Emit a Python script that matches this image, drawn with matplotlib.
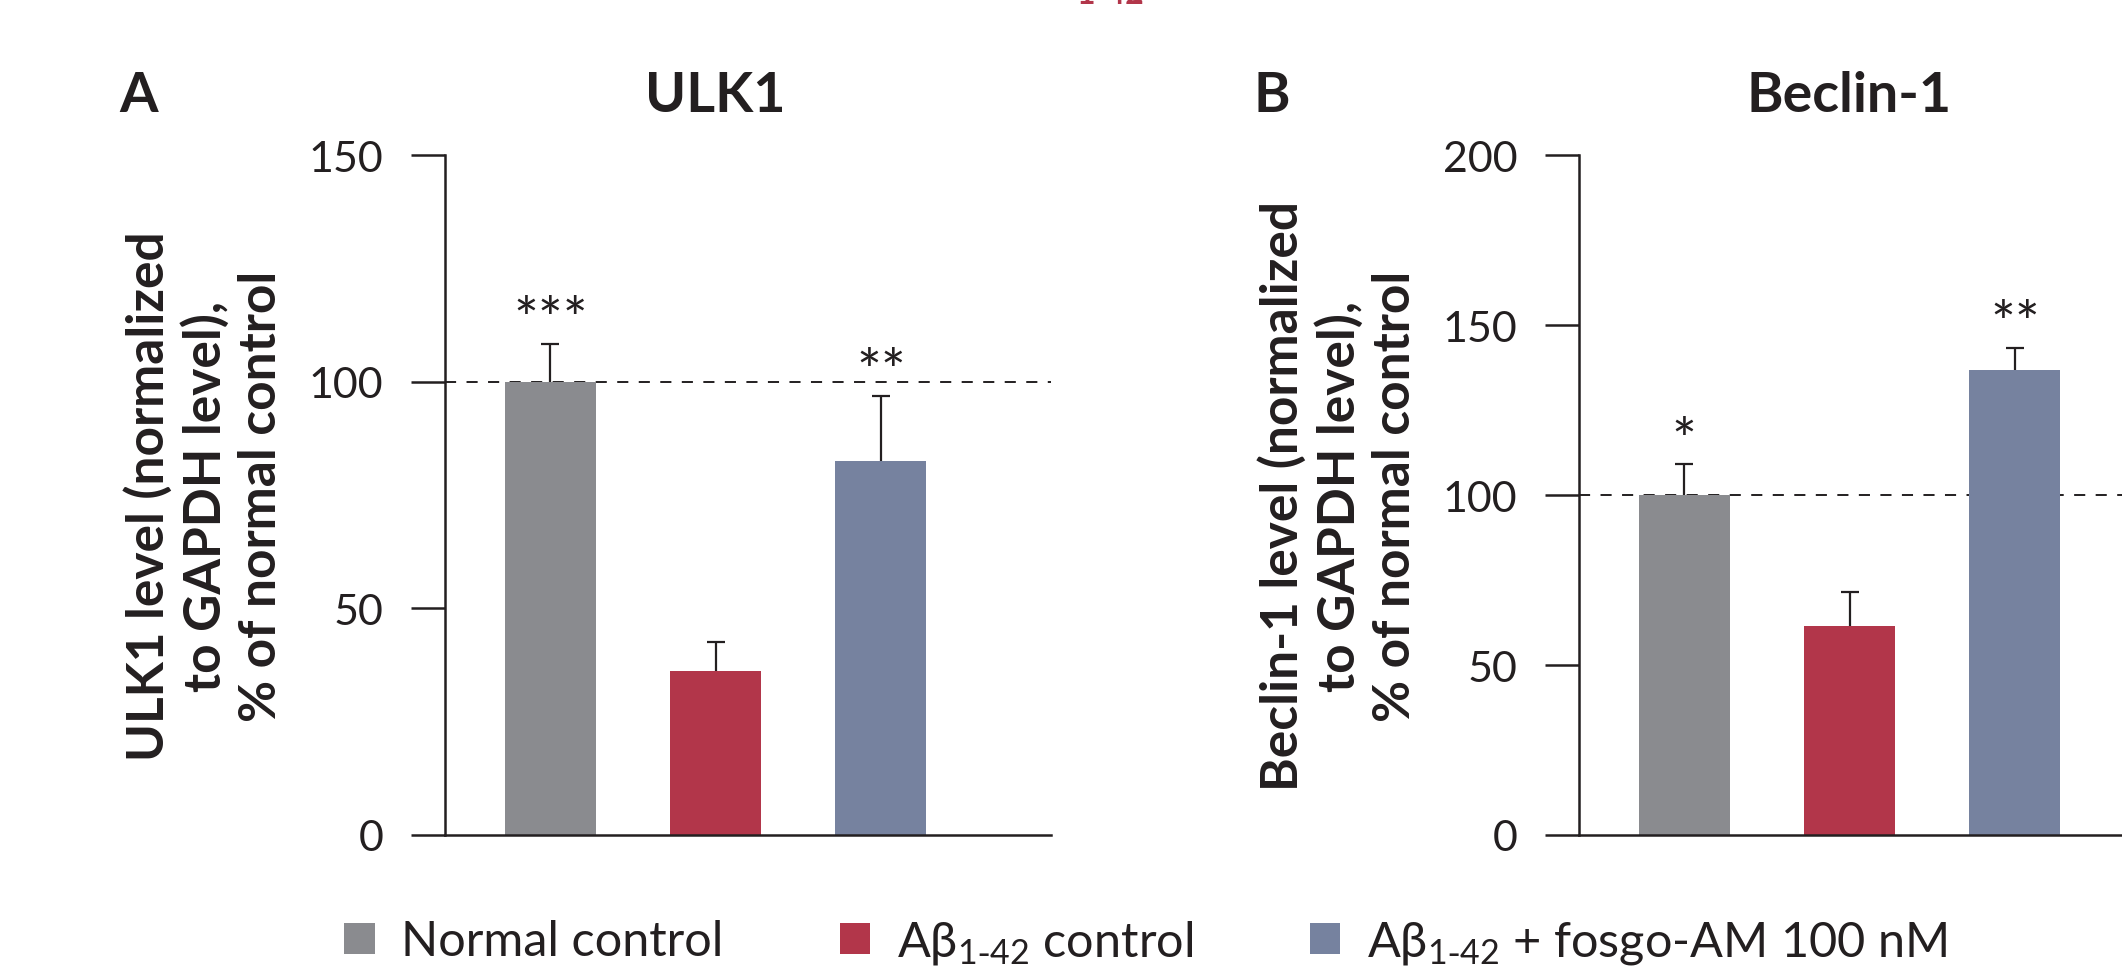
import numpy as np
import matplotlib
matplotlib.use('Agg')
import matplotlib.pyplot as plt

plt.rcParams['font.family'] = ['Lato', 'DejaVu Sans']
plt.rcParams['lines.scale_dashes'] = False
plt.rcParams['mathtext.default'] = 'regular'

INK = '#231f20'

groups = ['Normal control', r'A$\beta_{1\text{-}42}$ control',
          r'A$\beta_{1\text{-}42}$ + fosgo-AM 100 nM']
colors = ['#8a8b8f', '#b2364a', '#76829f']

ulk1_mean = [100, 36.1, 82.4]
ulk1_err = [8.4, 6.5, 14.5]
ulk1_stars = ['***', '', '**']

beclin_mean = [100, 61.5, 136.8]
beclin_err = [9.0, 10.0, 6.5]
beclin_stars = ['*', '', '**']

panels = [
    dict(letter='A', title='ULK1', mean=ulk1_mean, err=ulk1_err, stars=ulk1_stars,
         ylim=150, ticks=[0, 50, 100, 150],
         ylabel='ULK1 level (normalized\nto GAPDH level),\n% of normal control',
         left=445),
    dict(letter='B', title='Beclin-1', mean=beclin_mean, err=beclin_err, stars=beclin_stars,
         ylim=200, ticks=[0, 50, 100, 150, 200],
         ylabel='Beclin-1 level (normalized\nto GAPDH level),\n% of normal control',
         left=1579),
]

W, H = 2122, 970
fig = plt.figure(figsize=(W / 100, H / 100), dpi=100)

x = np.arange(3)
handles = []
for p in panels:
    ax = fig.add_axes([p['left'] / W, (H - 836) / H, 606 / W, 680 / H])
    ax.axhline(100, color=INK, lw=1.4, ls=(0, (8, 7.5)), zorder=1)
    for i in range(3):
        b = ax.bar(x[i], p['mean'][i], width=0.553, color=colors[i], zorder=2,
                   label=groups[i])
        if p['letter'] == 'A':
            handles.append(b)
    _, caps, _ = ax.errorbar(x, p['mean'], yerr=[np.zeros(3), p['err']], fmt='none',
                             ecolor=INK, elinewidth=1.6, capsize=6.3, capthick=1.6,
                             zorder=1.5)
    # hide the lower caps (they would sit on the bar tops)
    for c in caps:
        if np.allclose(c.get_ydata(), p['mean']):
            c.set_visible(False)
    for i in range(3):
        if p['stars'][i]:
            ax.annotate(p['stars'][i], (x[i], p['mean'][i] + p['err'][i]),
                        xytext=(0, 16), textcoords='offset points',
                        ha='center', va='center', fontsize=42, color=INK)
    ax.set_xlim(-0.637, 3.03)
    ax.set_ylim(0, p['ylim'])
    ax.set_yticks(p['ticks'])
    ax.set_xticks([])
    for s in ['top', 'right']:
        ax.spines[s].set_visible(False)
    for s in ['left', 'bottom']:
        ax.spines[s].set_linewidth(1.8)
        ax.spines[s].set_color(INK)
    ax.tick_params(axis='y', length=24.5, width=1.8, pad=20, colors=INK,
                   labelsize=31)
    ax.set_ylabel(p['ylabel'], fontsize=37, fontweight='bold', color=INK,
                  ha='center', va='center', multialignment='center',
                  linespacing=1.22)
    ax.yaxis.set_label_coords(-0.397, 0.5)
    ax.annotate(p['title'], xy=(1, 1), xycoords=('data', 'axes fraction'),
                xytext=(0, 32), textcoords='offset points', ha='center',
                va='baseline', fontsize=40, fontweight='bold', color=INK)
    fig.text((p['left'] - 326) / W, (H - 112) / H, p['letter'], ha='left',
             va='baseline', fontsize=40, fontweight='bold', color=INK)

# cropped subscript of the figure heading above
fig.text(1111 / W, (H - 9) / H, '1-42', ha='center', va='bottom',
         fontsize=23, fontweight='bold', color='#b2364a')

leg = fig.legend(handles=handles, labels=groups, loc='center',
                 bbox_to_anchor=(0.54, 0.028), ncol=3, frameon=False,
                 handlelength=0.62, handleheight=0.6,
                 handletextpad=0.55, columnspacing=2.4, borderpad=0,
                 borderaxespad=0, prop={'size': 35})
for t in leg.get_texts():
    t.set_color(INK)

fig.savefig('out.png', dpi=100)
